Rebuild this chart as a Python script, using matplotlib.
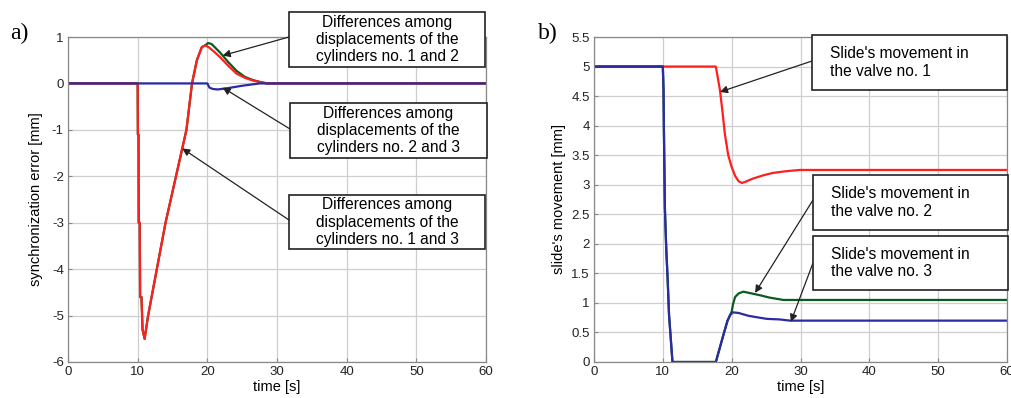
import matplotlib
matplotlib.use("Agg")
import matplotlib.pyplot as plt
from matplotlib.patches import Rectangle

plt.rcParams['font.family'] = ['Liberation Sans', 'DejaVu Sans']
plt.rcParams['axes.unicode_minus'] = False

# ---------- panel a) data ----------
t_13 = [0, 10, 10.03, 10.12, 10.15, 10.3, 10.35, 10.55, 10.7, 11.0, 11.5, 14.0, 17.0, 17.8,
        18.5, 19.2, 19.7, 20.2, 21.0, 21.8, 23.0, 24.2, 25.4, 26.6, 27.6, 28.7, 60]
e_13 = [0, 0, -1.1, -1.1, -3.0, -3.0, -4.6, -4.6, -5.3, -5.5, -5.0, -3.0, -1.0, 0.0,
        0.5, 0.78, 0.82, 0.78, 0.68, 0.57, 0.38, 0.21, 0.12, 0.06, 0.03, 0.0, 0]
t_12 = [0, 10, 10.03, 10.12, 10.15, 10.3, 10.35, 10.55, 10.7, 11.0, 11.5, 14.0, 17.0, 17.8,
        18.5, 19.2, 19.7, 20.1, 20.6, 21.8, 23.0, 24.2, 25.4, 26.6, 27.6, 28.5, 60]
e_12 = [0, 0, -1.1, -1.1, -3.0, -3.0, -4.6, -4.6, -5.3, -5.5, -5.0, -3.0, -1.0, 0.0,
        0.5, 0.78, 0.82, 0.87, 0.85, 0.67, 0.46, 0.27, 0.14, 0.07, 0.03, 0.0, 0]
t_23 = [0, 20.0, 20.3, 20.8, 21.5, 23.0, 25.0, 26.5, 27.5, 60]
e_23 = [0, 0, -0.09, -0.12, -0.13, -0.1, -0.05, -0.02, 0.0, 0]

# ---------- panel b) data ----------
t_v1 = [0, 17.7, 18.0, 18.3, 18.7, 19.0, 19.5, 20.0, 20.5, 21.0, 21.5, 22.0, 23.0, 24.6,
        26.0, 28.0, 29.9, 60]
s_v1 = [5, 5, 4.8, 4.6, 4.2, 3.87, 3.5, 3.3, 3.15, 3.06, 3.03, 3.05, 3.1, 3.16,
        3.2, 3.23, 3.25, 3.25]
t_v3 = [0, 10.0, 10.1, 10.15, 10.3, 10.5, 10.7, 10.9, 11.4, 17.7, 18.3, 18.9, 19.4,
        19.8, 20.2, 21.0, 22.5, 25.1, 27.0, 28.5, 60]
s_v3 = [5, 5, 4.6, 4.0, 2.6, 1.9, 1.4, 0.8, 0, 0, 0.25, 0.5, 0.7,
        0.8, 0.84, 0.83, 0.78, 0.73, 0.72, 0.70, 0.70]
t_v2 = [0, 10.0, 10.1, 10.15, 10.3, 10.5, 10.7, 10.9, 11.4, 17.7, 18.3, 18.9, 19.4,
        19.8, 20.0, 20.2, 20.5, 21.0, 21.7, 22.5, 24.1, 25.5, 27.5, 60]
s_v2 = [5, 5, 4.6, 4.0, 2.6, 1.9, 1.4, 0.8, 0, 0, 0.25, 0.5, 0.7,
        0.8, 0.85, 0.98, 1.1, 1.16, 1.19, 1.17, 1.13, 1.09, 1.05, 1.05]

xticks = [0, 10, 20, 30, 40, 50, 60]
yticks_a = [-6, -5, -4, -3, -2, -1, 0, 1]
yticks_b = [0, 0.5, 1, 1.5, 2, 2.5, 3, 3.5, 4, 4.5, 5, 5.5]
ytick_labels_b = ['0', '0.5', '1', '1.5', '2', '2.5', '3', '3.5', '4', '4.5', '5', '5.5']

RED = '#ff1f1f'
GREEN = '#0b5a1e'
BLUE = '#2b2ba3'

W, H = 1011, 398
fig = plt.figure(figsize=(W / 100, H / 100), dpi=100)

def fx(px):
    return px / W

def fy(py):
    return 1 - py / H

axa = fig.add_axes([fx(68), fy(362), fx(486) - fx(68), fy(37) - fy(362)])
axb = fig.add_axes([fx(594), fy(362), fx(1007) - fx(594), fy(37) - fy(362)])

for ax in (axa, axb):
    ax.grid(True, color='#cfcfcf', lw=0.9)
    ax.set_axisbelow(True)
    for s in ax.spines.values():
        s.set_color('#888888')
        s.set_linewidth(0.9)
    ax.tick_params(direction='in', length=3, color='#888888', labelsize=9.5,
                   labelcolor='#222222', pad=3)
    ax.set_xlim(0, 60)
    ax.set_xticks(xticks)
    ax.set_xlabel('time [s]', fontsize=10.5, labelpad=1)

axa.plot(t_12, e_12, color=GREEN, lw=1.6)
axa.plot(t_13, e_13, color=RED, lw=1.6)
axa.plot(t_23, e_23, color=BLUE, lw=1.6)
axa.set_ylim(-6, 1)
axa.set_yticks(yticks_a)
axa.set_ylabel('synchronization error [mm]', fontsize=10.5, labelpad=6)

axb.plot(t_v1, s_v1, color=RED, lw=1.6)
axb.plot(t_v2, s_v2, color=GREEN, lw=1.6)
axb.plot(t_v3, s_v3, color=BLUE, lw=1.6)
axb.set_ylim(0, 5.5)
axb.set_yticks(yticks_b)
axb.set_yticklabels(ytick_labels_b)
axb.set_ylabel("slide's movement [mm]", fontsize=10.5, labelpad=4)

fig.text(fx(10), fy(33), 'a)', family='Liberation Serif', fontsize=17, va='center', ha='left')
fig.text(fx(538), fy(33), 'b)', family='Liberation Serif', fontsize=17, va='center', ha='left')

def box(x0, y0, x1, y1, text, align):
    fig.add_artist(Rectangle((fx(x0), fy(y1)), fx(x1) - fx(x0), fy(y0) - fy(y1),
                             transform=fig.transFigure, facecolor='white',
                             edgecolor='#222222', lw=1.2, zorder=5))
    if align == 'center':
        fig.text(fx((x0 + x1) / 2), fy((y0 + y1) / 2), text, ha='center', va='center',
                 fontsize=11.2, linespacing=1.2, multialignment='center', zorder=6)
    else:
        fig.text(fx(x0 + 18), fy((y0 + y1) / 2), text, ha='left', va='center',
                 fontsize=11.2, linespacing=1.2, multialignment='left', zorder=6)

def arrow(ax, xy, tail_px):
    ax.annotate('', xy=xy, xycoords='data',
                xytext=(fx(tail_px[0]), fy(tail_px[1])), textcoords='figure fraction',
                arrowprops=dict(arrowstyle='-|>', color='#222222', lw=0.9,
                                mutation_scale=11, shrinkA=0, shrinkB=0),
                annotation_clip=False, zorder=4)

box(289, 12, 485, 67, 'Differences among\ndisplacements of the\ncylinders no. 1 and 2', 'center')
box(290, 103, 487, 158, 'Differences among\ndisplacements of the\ncylinders no. 2 and 3', 'center')
box(289, 195, 485, 249, 'Differences among\ndisplacements of the\ncylinders no. 1 and 3', 'center')
arrow(axa, (22.2, 0.6), (289, 37))
arrow(axa, (22.2, -0.09), (290, 129))
arrow(axa, (16.4, -1.4), (289, 220))

box(812, 35, 1007, 90, "Slide's movement in\nthe valve no. 1", 'left')
box(813, 175, 1008, 230, "Slide's movement in\nthe valve no. 2", 'left')
box(813, 236, 1008, 290, "Slide's movement in\nthe valve no. 3", 'left')
arrow(axb, (18.3, 4.57), (812, 61))
arrow(axb, (23.4, 1.17), (813, 200))
arrow(axb, (28.6, 0.68), (813, 263))

fig.savefig('out.png', dpi=100)
